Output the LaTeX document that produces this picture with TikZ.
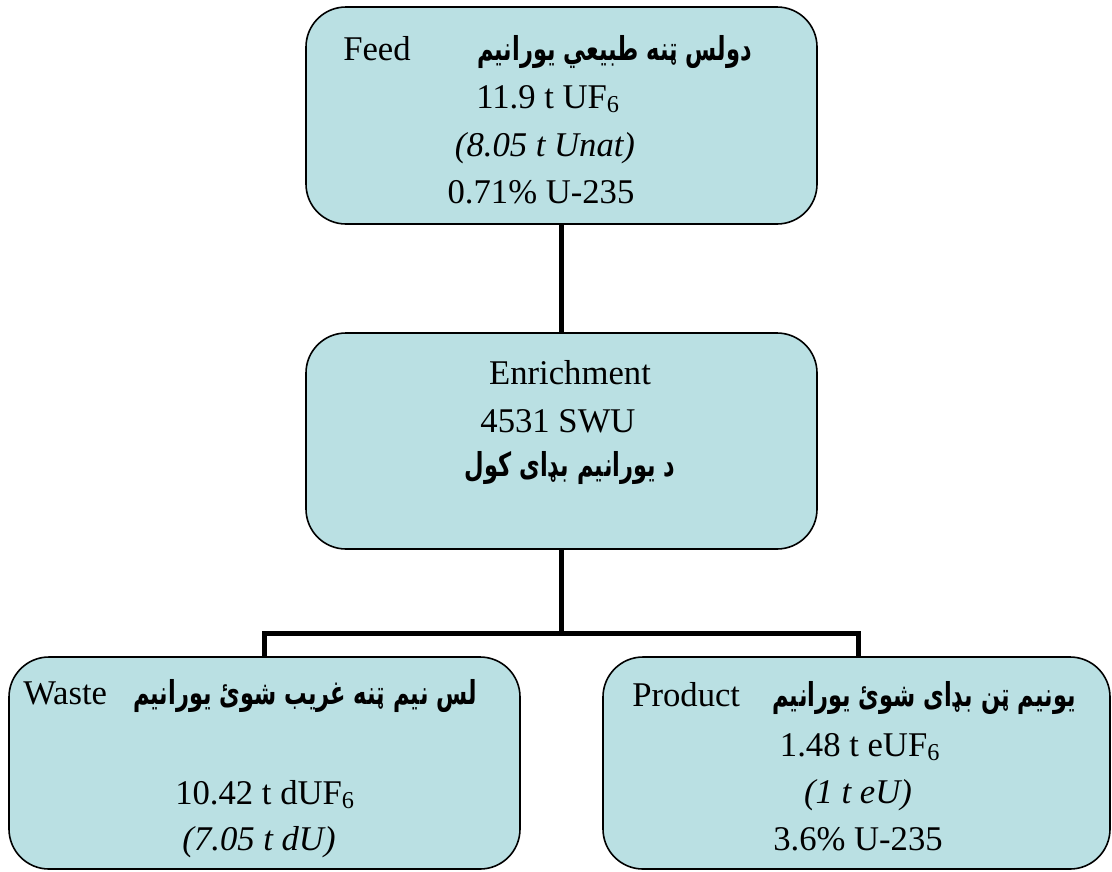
\documentclass[tikz,border=0pt]{standalone}
\usepackage{fontspec}
\setmainfont{Liberation Serif}
\newfontfamily\arabicfont[Script=Arabic]{DejaVu Sans}
\TeXXeTstate=1
\usetikzlibrary{fit}
\definecolor{boxfill}{RGB}{186,224,227}
\newcommand{\pashto}[1]{\scalebox{0.89}[1.3]{\arabicfont\bfseries\fontsize{19}{24}\selectfont\beginR #1\endR}}
\begin{document}
\begin{tikzpicture}[x=0.75pt,y=-0.75pt,
  box/.style={draw=black, line width=1.2pt, fill=boxfill, rounded corners=30pt, inner sep=0pt},
  conn/.style={line width=3.75pt, line join=miter},
  lat/.style={font=\fontsize{26}{30}\selectfont, inner sep=0pt, anchor=base},
  ar/.style={inner sep=0pt, anchor=base east}]
\useasboundingbox (0,0) rectangle (1112,871);
% boxes
\node[box, fit={(306,7) (817,224)}] (feed) {};
\node[box, fit={(306,333) (817,549)}] (enr) {};
\node[box, fit={(9,657) (520,869)}] (waste) {};
\node[box, fit={(603,657) (1110,869)}] (prod) {};
% connectors
\coordinate (split) at (561.5,633);
\coordinate (wl) at (264,633);
\coordinate (pr) at (858,633);
\draw[conn] (feed.south) -- (enr.north);
\draw[conn] (enr.south) -- (split);
\draw[conn] (wl |- waste.north) -- (wl) -- (pr) -- (pr |- prod.north);
% feed text
\node[lat, anchor=base west] (feedlbl) at (343,60) {Feed};
\node[ar] (feedar) at (752,60) {\pashto{دولس ټنه طبيعي يورانيم}};
\node[lat] (feedt1) at (548,108) {11.9 t UF\textsubscript{6}};
\node[lat] (feedt2) at (545,156) {\itshape (8.05 t Unat)};
\node[lat] (feedt3) at (541,203) {0.71\% U-235};
% enrichment text
\node[lat] (enrt1) at (570,384) {Enrichment};
\node[lat] (enrt2) at (558,432) {4531 SWU};
\node[ar, anchor=base] (enrar) at (570,476) {\pashto{د يورانيم بډای کول}};
% waste text
\node[lat, anchor=base west] (wastelbl) at (23,704) {Waste};
\node[ar] (wastear) at (477,704) {\pashto{لس نيم ټنه غريب شوئ يورانيم}};
\node[lat] (wastet1) at (265,804) {10.42 t dUF\textsubscript{6}};
\node[lat] (wastet2) at (259,850) {\itshape (7.05 t dU)};
% product text
\node[lat, anchor=base west] (prodlbl) at (632,706) {Product};
\node[ar] (prodar) at (1076,706) {\pashto{يونيم ټن بډای شوئ يورانيم}};
\node[lat] (prodt1) at (860,756) {1.48 t eUF\textsubscript{6}};
\node[lat] (prodt2) at (858,803) {\itshape (1 t eU)};
\node[lat] (prodt3) at (858,850) {3.6\% U-235};
\end{tikzpicture}
\end{document}
